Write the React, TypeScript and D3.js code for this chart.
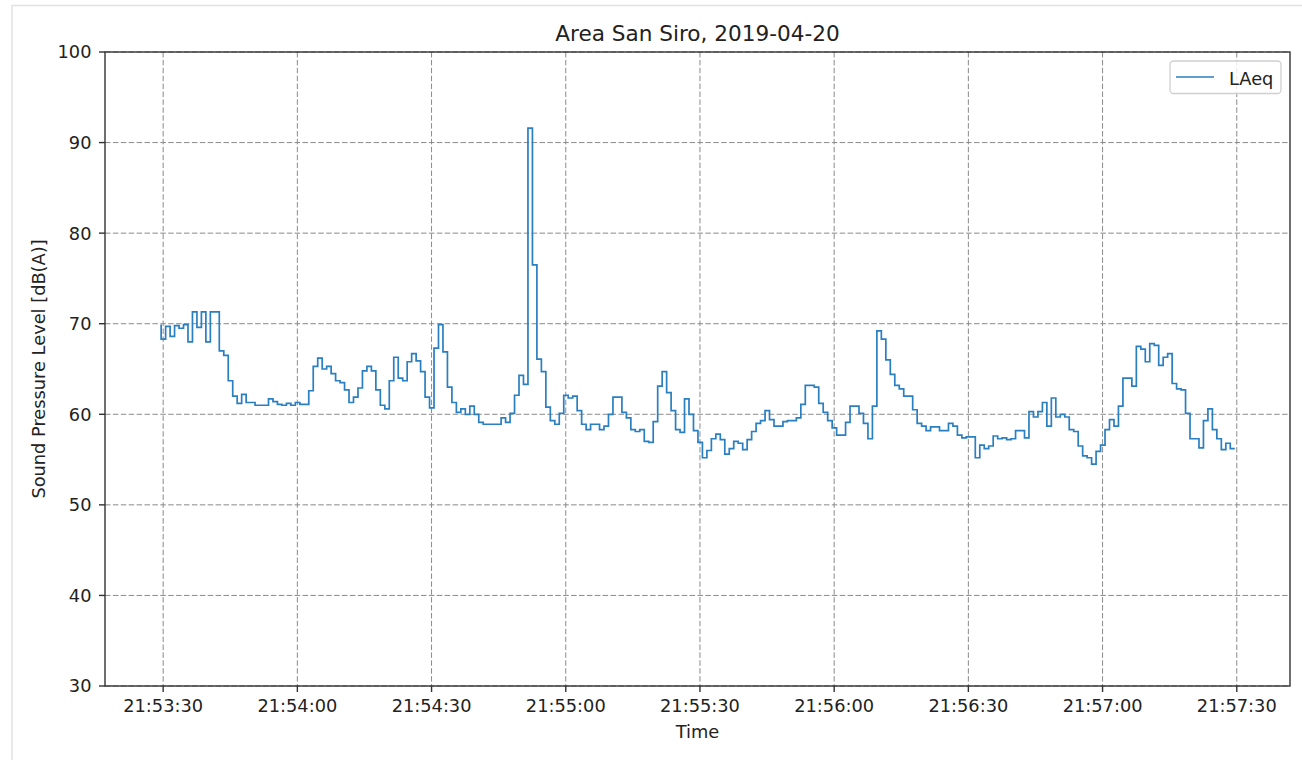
import React from "react";
import * as d3 from "d3";

// ---- data ----
const title = "Area San Siro, 2019-04-20";
const seriesName = "LAeq";
const startTime = "21:53:29.550"; // first sample
const stepSeconds = 1;
const xDomainLabels = ["21:53:17.000", "21:57:41.900"];
const xTickLabels = [
  "21:53:30", "21:54:00", "21:54:30", "21:55:00", "21:55:30",
  "21:56:00", "21:56:30", "21:57:00", "21:57:30",
];
const yTicks = [30, 40, 50, 60, 70, 80, 90, 100];
const laeq = [
  69.9,
  68.3, 69.7, 68.6, 69.8, 69.5, 69.9, 68.0, 71.3, 69.6, 71.3,
  68.0, 71.3, 71.3, 67.0, 66.5, 63.7, 62.0, 61.2, 62.2, 61.3,
  61.3, 61.0, 61.0, 61.0, 61.7, 61.4, 61.1, 61.0, 61.2, 61.0,
  61.3, 61.1, 61.1, 62.6, 65.3, 66.2, 65.0, 65.3, 64.5, 63.7,
  63.5, 62.7, 61.3, 61.9, 62.9, 64.8, 65.3, 64.8, 62.7, 61.0,
  60.6, 63.7, 66.3, 64.0, 63.7, 65.8, 66.7, 65.9, 64.7, 61.9,
  60.7, 67.3, 69.9, 66.9, 63.0, 61.3, 60.2, 60.6, 60.0, 60.9,
  60.0, 59.1, 58.9, 58.9, 58.9, 58.9, 59.6, 59.1, 60.1, 62.1,
  64.3, 63.3, 91.6, 76.5, 66.1, 64.7, 60.8, 59.3, 58.9, 60.1,
  62.1, 61.8, 62.0, 60.4, 58.9, 58.3, 58.9, 58.9, 58.3, 58.7,
  60.0, 61.9, 61.9, 60.2, 59.6, 58.3, 58.1, 58.3, 57.0, 56.9,
  59.2, 63.1, 64.7, 62.4, 60.4, 58.3, 58.0, 61.7, 60.0, 58.2,
  56.9, 55.2, 56.0, 57.3, 57.8, 57.2, 55.6, 56.2, 57.0, 56.8,
  56.1, 57.2, 58.1, 59.0, 59.3, 60.4, 59.4, 58.7, 58.7, 59.2,
  59.3, 59.3, 59.6, 61.1, 63.2, 63.2, 63.0, 61.2, 60.2, 59.3,
  58.5, 57.7, 57.7, 59.1, 60.9, 60.9, 60.1, 59.0, 57.3, 60.9,
  69.2, 68.3, 66.0, 64.4, 63.2, 62.8, 62.0, 62.0, 60.5, 59.0,
  58.7, 58.2, 58.6, 58.6, 58.2, 58.2, 59.0, 58.7, 57.7, 57.4,
  57.5, 57.5, 55.2, 56.6, 56.2, 56.5, 57.6, 57.3, 57.4, 57.2,
  57.3, 58.2, 58.2, 57.4, 60.3, 59.7, 60.3, 61.3, 58.7, 61.8,
  59.7, 60.0, 59.7, 58.3, 58.1, 56.5, 55.4, 55.2, 54.5, 55.9,
  56.6, 58.3, 59.4, 58.7, 60.9, 64.0, 64.0, 63.1, 67.5, 67.2,
  65.8, 67.8, 67.6, 65.4, 66.3, 66.7, 63.4, 62.8, 62.7, 60.1,
  57.3, 57.3, 56.3, 59.3, 60.6, 58.3, 57.3, 56.1, 56.8, 56.2,
];

// ---- layout ----
const W = 1302;
const H = 760;
const M = { left: 105, right: 1290, top: 52, bottom: 686 };
const FONT = "'DejaVu Sans', sans-serif";
const FS = 17.8;
const LINE_COLOR = "#2a7fc0";

const parseMs = d3.timeParse("%H:%M:%S.%L");
const parseS = d3.timeParse("%H:%M:%S");

export default function App() {
  const t0 = parseMs(startTime) as Date;
  const points = laeq.map((v, i) => ({
    t: new Date(t0.getTime() + i * stepSeconds * 1000),
    v,
  }));

  const x = d3
    .scaleTime()
    .domain(xDomainLabels.map((s) => parseMs(s) as Date))
    .range([M.left, M.right]);
  const y = d3.scaleLinear().domain([30, 100]).range([M.bottom, M.top]);

  const line = d3
    .line<{ t: Date; v: number }>()
    .x((d) => x(d.t))
    .y((d) => y(d.v))
    .curve(d3.curveStepBefore);

  const xTicks = xTickLabels.map((s) => ({ label: s, t: parseS(s) as Date }));

  return (
    <div style={{ position: "absolute", left: 0, top: 0 }}>
      <svg width={W} height={H} style={{ display: "block", background: "#fff" }}>
        <rect x={12} y={5.5} width={1400} height={900} fill="#fff" stroke="#e2e2e2" strokeWidth={1.5} />

        {/* grid */}
        <g stroke="#8a8a8a" strokeWidth={1} strokeDasharray="5.5,2.4" fill="none">
          {xTicks.map((d) => (
            <line key={d.label} x1={x(d.t)} x2={x(d.t)} y1={M.top} y2={M.bottom} />
          ))}
          {yTicks.map((v) => (
            <line key={v} x1={M.left} x2={M.right} y1={y(v)} y2={y(v)} />
          ))}
        </g>

        {/* series */}
        <path d={line(points) ?? ""} fill="none" stroke={LINE_COLOR} strokeWidth={1.7} strokeLinejoin="miter" />

        {/* spines */}
        <rect
          x={M.left}
          y={M.top}
          width={M.right - M.left}
          height={M.bottom - M.top}
          fill="none"
          stroke="#333"
          strokeWidth={1.4}
        />

        {/* x ticks */}
        {xTicks.map((d) => (
          <g key={d.label} transform={`translate(${x(d.t)},0)`}>
            <line y1={M.bottom} y2={M.bottom + 6} stroke="#333" strokeWidth={1.4} />
            <text y={711.5} textAnchor="middle" fontFamily={FONT} fontSize={FS} fill="#222">
              {d.label}
            </text>
          </g>
        ))}

        {/* y ticks */}
        {yTicks.map((v) => (
          <g key={v} transform={`translate(0,${y(v)})`}>
            <line x1={M.left - 6} x2={M.left} stroke="#333" strokeWidth={1.4} />
            <text x={91.5} dy="0.36em" textAnchor="end" fontFamily={FONT} fontSize={FS} fill="#222">
              {v}
            </text>
          </g>
        ))}

        {/* labels */}
        <text
          x={(M.left + M.right) / 2}
          y={41}
          textAnchor="middle"
          fontFamily={FONT}
          fontSize={21.6}
          fill="#222"
        >
          {title}
        </text>
        <text
          x={(M.left + M.right) / 2}
          y={737.5}
          textAnchor="middle"
          fontFamily={FONT}
          fontSize={FS}
          fill="#222"
        >
          Time
        </text>
        <text
          transform={`translate(44.5,${(M.top + M.bottom) / 2}) rotate(-90)`}
          textAnchor="middle"
          fontFamily={FONT}
          fontSize={FS}
          fill="#222"
        >
          Sound Pressure Level [dB(A)]
        </text>

        {/* legend */}
        <g>
          <rect x={1170} y={61} width={111} height={32.5} rx={3.5} fill="#fff" fillOpacity={0.8} stroke="#d0d0d0" strokeWidth={1.3} />
          <line x1={1176} x2={1214} y1={77} y2={77} stroke={LINE_COLOR} strokeWidth={1.7} />
          <text x={1229} y={85} fontFamily={FONT} fontSize={FS} fill="#222">
            {seriesName}
          </text>
        </g>
      </svg>
    </div>
  );
}
